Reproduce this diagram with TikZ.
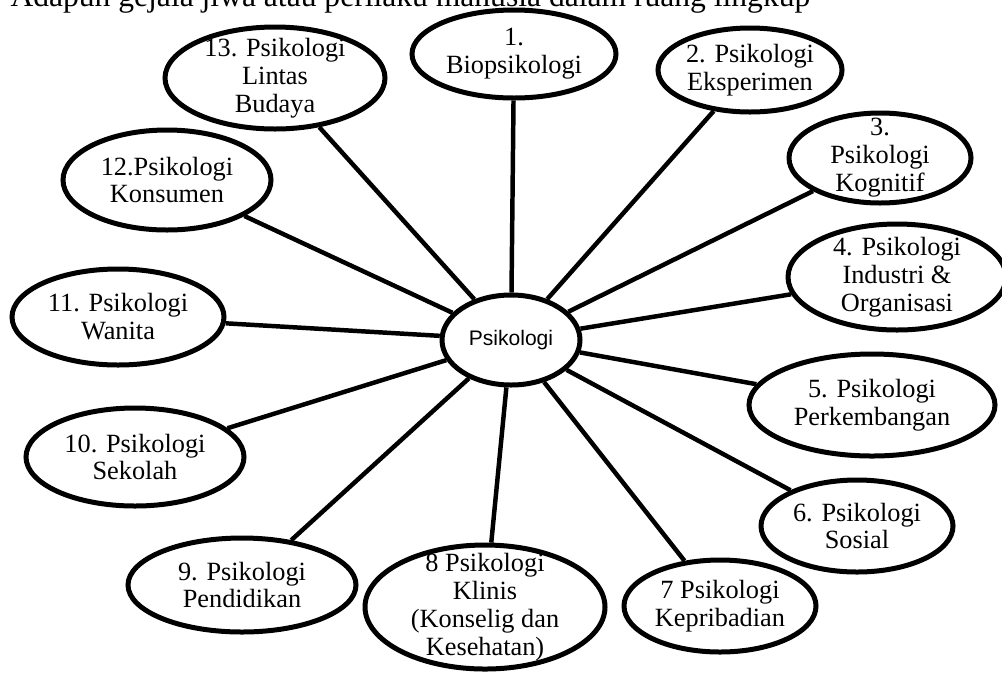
\documentclass[tikz,border=0pt]{standalone}
\usepackage{fontspec}
\setmainfont{Liberation Serif}
\newfontfamily\arialfont{Liberation Sans}
\usetikzlibrary{shapes.geometric}
\tikzset{
	oval/.style 2 args={draw, ellipse, line width=1.9pt, inner sep=0pt, minimum width=#1*0.76pt, minimum height=#2*0.76pt},
	lbl/.style={align=center, inner sep=0pt, font=\fontsize{10}{10.6}\selectfont},
	spoke/.style={line width=1.7pt}
}
\begin{document}
\begin{tikzpicture}[x=0.38pt,y=-0.38pt]
	\useasboundingbox (0,0) rectangle (1002,673);
	\clip (0,0) rectangle (1002,673);
	\path
	coordinate (c0) at (511,340)
	coordinate (c1) at (514,54)
	coordinate (c2) at (750,70)
	coordinate (c3) at (880,158)
	coordinate (c4) at (897,277)
	coordinate (c5) at (872,405)
	coordinate (c6) at (857,526)
	coordinate (c7) at (720,606)
	coordinate (c8) at (485,607)
	coordinate (c9) at (242,585)
	coordinate (c10) at (135,457)
	coordinate (c11) at (118,317)
	coordinate (c12) at (167,180)
	coordinate (c13) at (275,78)
	;
	\node[anchor=base west, inner sep=0pt, font=\fontsize{12}{14}\selectfont] (judul) at (10,6) {Adapun gejala jiwa atau perilaku manusia dalam ruang lingkup};
	\node[oval={69}{45}, font=\arialfont\fontsize{8}{9}\selectfont] (n0) at (c0) {Psikologi};
	\node[oval={102}{44}] (n1) at (c1) {};
	\node[oval={92}{42}] (n2) at (c2) {};
	\node[oval={91}{45}] (n3) at (c3) {};
	\node[oval={109}{53}] (n4) at (c4) {};
	\node[oval={123}{51}] (n5) at (c5) {};
	\node[oval={96}{46}] (n6) at (c6) {};
	\node[oval={96}{46}] (n7) at (c7) {};
	\node[oval={120}{62}] (n8) at (c8) {};
	\node[oval={114}{47}] (n9) at (c9) {};
	\node[oval={109}{49}] (n10) at (c10) {};
	\node[oval={106}{48}] (n11) at (c11) {};
	\node[oval={104}{50}] (n12) at (c12) {};
	\node[oval={110}{51}] (n13) at (c13) {};
	\draw[spoke] (n0) -- (n1);
	\draw[spoke] (n0) -- (n2);
	\draw[spoke] (n0) -- (n3);
	\draw[spoke] (n0) -- (n4);
	\draw[spoke] (n0) -- (n5);
	\draw[spoke] (n0) -- (n6);
	\draw[spoke] (n0) -- (n7);
	\draw[spoke] (n0) -- (n8);
	\draw[spoke] (n0) -- (n9);
	\draw[spoke] (n0) -- (n10);
	\draw[spoke] (n0) -- (n11);
	\draw[spoke] (n0) -- (n12);
	\draw[spoke] (n0) -- (n13);
	\node[lbl] (t1) at (n1) {1.\\Biopsikologi};
	\node[lbl] (t2) at (n2) {2. Psikologi\\Eksperimen};
	\node[lbl] (t3) at (n3) {3.\\Psikologi\\Kognitif};
	\node[lbl] (t4) at (n4) {4. Psikologi\\Industri \&\\Organisasi};
	\node[lbl] (t5) at (n5) {5. Psikologi\\Perkembangan};
	\node[lbl] (t6) at (n6) {6. Psikologi\\Sosial};
	\node[lbl] (t7) at (n7) {7 Psikologi\\Kepribadian};
	\node[lbl] (t8) at (n8) {8 Psikologi\\Klinis\\(Konselig dan\\Kesehatan)};
	\node[lbl] (t9) at (n9) {9. Psikologi\\Pendidikan};
	\node[lbl] (t10) at (n10) {10. Psikologi\\Sekolah};
	\node[lbl] (t11) at (n11) {11. Psikologi\\Wanita};
	\node[lbl] (t12) at (n12) {12.Psikologi\\Konsumen};
	\node[lbl] (t13) at (n13) {13. Psikologi\\Lintas\\Budaya};
\end{tikzpicture}
\end{document}
